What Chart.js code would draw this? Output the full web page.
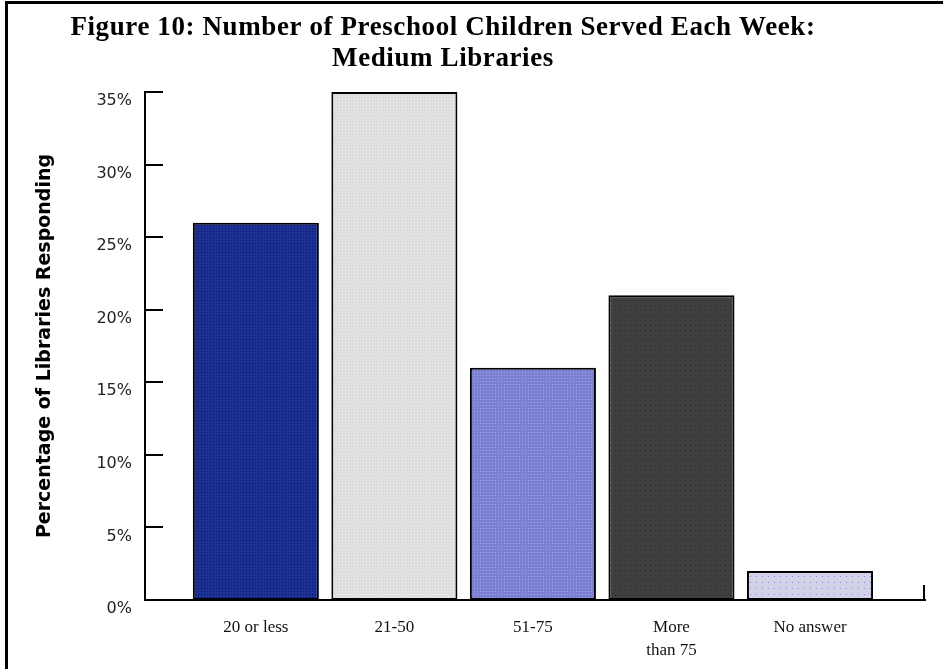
<!DOCTYPE html>
<html>
<head>
<meta charset="utf-8">
<script src="https://cdn.jsdelivr.net/npm/chart.js@4/dist/chart.umd.min.js"></script>
<style>
  html, body { margin: 0; padding: 0; background: #fff; }
  #wrap { width: 943px; height: 669px; }
</style>
</head>
<body>
<div id="wrap"><canvas id="chart" width="943" height="669"></canvas></div>
<script>
// Data
const titleLines = ['Figure 10: Number of Preschool Children Served Each Week:', 'Medium Libraries'];
const categories = [['20 or less'], ['21-50'], ['51-75'], ['More', 'than 75'], ['No answer']];
const percents = [26, 35, 16, 21, 2];
const yTicks = [0, 5, 10, 15, 20, 25, 30, 35];
const yTitle = 'Percentage of Libraries Responding';

// dotted fills, like the old bitmap hatches
function dotPattern(base, dot, step, size) {
  const c = document.createElement('canvas');
  c.width = step;
  c.height = step;
  const g = c.getContext('2d');
  g.fillStyle = base;
  g.fillRect(0, 0, step, step);
  g.fillStyle = dot;
  g.fillRect(0, 0, size, size);
  return g.createPattern(c, 'repeat');
}
const ctx = document.getElementById('chart').getContext('2d');
const fills = [
  dotPattern('#1d3194', '#0b1766', 3, 1),
  dotPattern('#dedede', '#f0f0f0', 3, 1),
  dotPattern('#7b80d2', '#a4aae6', 3, 1),
  dotPattern('#3f3f3f', '#262626', 5, 1),
  dotPattern('#d2d2e6', '#8c8ce0', 6, 1),
];

const frameAndTitle = {
  id: 'frameAndTitle',
  beforeDraw(chart) {
    const c = chart.ctx;
    c.save();
    c.fillStyle = '#fff';
    c.fillRect(0, 0, chart.width, chart.height);
    c.fillStyle = '#000';
    c.fillRect(5, 1, 3, chart.height);
    c.fillRect(5, 1, chart.width, 3);
    c.font = 'bold 27px "Liberation Serif"';
    c.letterSpacing = '0.6px';
    c.textAlign = 'center';
    c.textBaseline = 'middle';
    c.fillText(titleLines[0], 443, 28);
    c.fillText(titleLines[1], 443, 59);
    c.restore();
  },
  afterDraw(chart) {
    // inward tick marks on the value axis, small end tick on the category axis
    const c = chart.ctx;
    const y = chart.scales.y;
    const area = chart.chartArea;
    c.save();
    c.strokeStyle = '#000';
    c.lineWidth = 2;
    c.beginPath();
    for (const v of yTicks) {
      const py = Math.round(y.getPixelForValue(v));
      c.moveTo(area.left, py);
      c.lineTo(area.left + 18, py);
    }
    c.moveTo(area.right - 1, area.bottom);
    c.lineTo(area.right - 1, area.bottom - 15);
    c.stroke();
    c.restore();
  }
};

new Chart(ctx, {
  type: 'bar',
  data: {
    datasets: [{
      data: percents.map((v, i) => ({ x: i, y: v })),
      backgroundColor: fills,
      borderColor: '#000',
      borderWidth: 2,
      borderSkipped: false,
      barPercentage: 0.91,
      categoryPercentage: 1,
    }]
  },
  options: {
    responsive: false,
    animation: false,
    layout: { padding: { left: 10, right: 18, top: 92, bottom: 0 } },
    plugins: {
      legend: { display: false },
      tooltip: { enabled: false },
    },
    scales: {
      x: {
        type: 'linear',
        min: -0.8,
        max: 4.83,
        offset: false,
        grid: { display: false, drawTicks: false, offset: false },
        border: { display: true, color: '#000', width: 2 },
        afterBuildTicks(scale) {
          scale.ticks = categories.map((c, i) => ({ value: i }));
        },
        afterFit(scale) {
          scale.height = 69;
        },
        ticks: {
          autoSkip: false,
          maxRotation: 0,
          padding: 16,
          color: '#111',
          font: { family: '"Liberation Serif"', size: 17, lineHeight: 1.35 },
          callback: (value) => categories[value],
        },
      },
      y: {
        min: 0,
        max: 35,
        grid: { display: false, drawTicks: false },
        border: { display: true, color: '#000', width: 2 },
        afterFit(scale) {
          scale.width = 135;
        },
        ticks: {
          stepSize: 5,
          padding: 13,
          labelOffset: 9,
          color: '#222',
          font: { family: '"DejaVu Sans"', size: 16 },
          callback: (v) => v + '%',
        },
        title: {
          display: true,
          text: yTitle,
          color: '#000',
          padding: { top: 24, bottom: 0 },
          font: { family: '"DejaVu Sans"', size: 19, weight: 'bold' },
        },
      },
    },
  },
  plugins: [frameAndTitle],
});
</script>
</body>
</html>
